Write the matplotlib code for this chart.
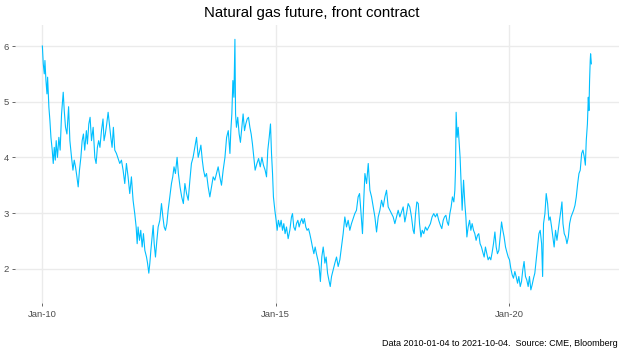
import pandas as pd
import matplotlib
matplotlib.use('Agg')
import matplotlib.pyplot as plt

plt.rcParams['font.family'] = ['Liberation Sans', 'DejaVu Sans']

# front-month price (approximate, ~2 points/month)
dates = [
    '2010-01-04', '2010-01-11', '2010-01-19', '2010-01-24', '2010-02-01', '2010-02-09', '2010-02-14', '2010-02-24',
    '2010-03-04', '2010-03-12', '2010-03-22', '2010-03-30', '2010-04-07', '2010-04-15', '2010-04-22', '2010-05-02',
    '2010-05-13', '2010-05-23', '2010-06-03', '2010-06-16', '2010-06-24', '2010-07-04', '2010-07-15', '2010-07-28',
    '2010-08-07', '2010-08-20', '2010-08-31', '2010-09-10', '2010-09-20', '2010-10-01', '2010-10-11', '2010-10-21',
    '2010-11-01', '2010-11-11', '2010-11-21', '2010-12-01', '2010-12-14', '2010-12-22',
    '2011-01-02', '2011-01-12', '2011-01-23', '2011-02-05', '2011-02-18', '2011-02-28', '2011-03-10', '2011-03-20',
    '2011-03-30', '2011-04-11', '2011-04-23', '2011-05-01', '2011-05-11', '2011-05-22', '2011-06-02', '2011-06-12',
    '2011-06-23', '2011-07-03', '2011-07-13', '2011-07-24', '2011-08-06', '2011-08-19', '2011-09-01', '2011-09-14',
    '2011-09-27', '2011-10-10', '2011-10-23', '2011-11-05', '2011-11-18', '2011-12-01', '2011-12-14', '2011-12-27',
    '2012-01-07', '2012-01-15', '2012-01-22', '2012-02-02', '2012-02-12', '2012-02-23', '2012-03-04', '2012-03-15',
    '2012-03-28', '2012-04-05', '2012-04-15', '2012-04-23', '2012-05-01', '2012-05-11', '2012-05-19', '2012-05-27',
    '2012-06-06', '2012-06-17', '2012-06-27', '2012-07-10', '2012-07-23', '2012-08-03', '2012-08-13', '2012-08-23',
    '2012-09-03', '2012-09-13', '2012-09-26', '2012-10-09', '2012-10-19', '2012-10-29', '2012-11-09', '2012-11-22',
    '2012-12-02', '2012-12-15', '2012-12-28',
    '2013-01-10', '2013-01-22', '2013-02-04', '2013-02-17', '2013-03-02', '2013-03-14', '2013-03-27', '2013-04-10',
    '2013-04-23', '2013-05-06', '2013-05-19', '2013-05-27', '2013-06-07', '2013-06-17', '2013-06-28', '2013-07-10',
    '2013-07-23', '2013-08-05', '2013-08-18', '2013-08-31', '2013-09-13', '2013-09-26', '2013-10-09', '2013-10-22',
    '2013-11-04', '2013-11-17', '2013-12-01', '2013-12-14', '2013-12-27',
    '2014-01-09', '2014-01-16', '2014-01-24', '2014-02-01', '2014-02-09', '2014-02-17', '2014-02-22', '2014-03-01',
    '2014-03-11', '2014-03-22', '2014-04-01', '2014-04-12', '2014-04-22', '2014-05-03', '2014-05-13', '2014-05-24',
    '2014-06-03', '2014-06-14', '2014-06-24', '2014-07-04', '2014-07-15', '2014-07-25', '2014-08-08', '2014-08-21',
    '2014-09-03', '2014-09-16', '2014-09-28', '2014-10-11', '2014-10-22', '2014-11-01', '2014-11-12', '2014-11-22',
    '2014-11-30', '2014-12-08', '2014-12-15', '2014-12-26',
    '2015-01-05', '2015-01-13', '2015-01-23', '2015-02-03', '2015-02-13', '2015-02-24', '2015-03-06', '2015-03-16',
    '2015-03-27', '2015-04-09', '2015-04-22', '2015-05-05', '2015-05-13', '2015-05-23', '2015-06-03', '2015-06-13',
    '2015-06-24', '2015-07-04', '2015-07-14', '2015-07-25', '2015-08-04', '2015-08-14', '2015-08-25', '2015-09-04',
    '2015-09-15', '2015-09-25', '2015-10-06', '2015-10-16', '2015-10-27', '2015-11-06', '2015-11-16', '2015-11-27',
    '2015-12-07', '2015-12-17', '2015-12-28',
    '2016-01-08', '2016-01-14', '2016-01-21', '2016-01-31', '2016-02-11', '2016-02-21', '2016-03-03', '2016-03-13',
    '2016-03-26', '2016-04-08', '2016-04-21', '2016-05-04', '2016-05-17', '2016-05-30', '2016-06-12', '2016-06-25',
    '2016-07-08', '2016-07-21', '2016-08-03', '2016-08-16', '2016-08-29', '2016-09-11', '2016-09-24', '2016-10-07',
    '2016-10-18', '2016-10-28', '2016-11-10', '2016-11-21', '2016-11-29', '2016-12-12', '2016-12-25',
    '2017-01-07', '2017-01-20', '2017-02-02', '2017-02-15', '2017-02-28', '2017-03-13', '2017-03-26', '2017-04-08',
    '2017-04-21', '2017-05-04', '2017-05-17', '2017-05-30', '2017-06-12', '2017-06-25', '2017-07-08', '2017-07-21',
    '2017-08-03', '2017-08-16', '2017-08-29', '2017-09-11', '2017-09-24', '2017-10-07', '2017-10-20', '2017-11-02',
    '2017-11-15', '2017-11-28', '2017-12-11', '2017-12-19', '2017-12-30',
    '2018-01-09', '2018-01-20', '2018-01-30', '2018-02-10', '2018-02-20', '2018-03-04', '2018-03-17', '2018-03-30',
    '2018-04-12', '2018-04-25', '2018-05-08', '2018-05-21', '2018-06-03', '2018-06-16', '2018-06-29', '2018-07-12',
    '2018-07-23', '2018-08-03', '2018-08-13', '2018-08-24', '2018-09-03', '2018-09-13', '2018-09-24', '2018-10-04',
    '2018-10-14', '2018-10-25', '2018-11-02', '2018-11-07', '2018-11-12', '2018-11-20', '2018-11-28', '2018-12-05',
    '2018-12-13', '2018-12-21', '2018-12-29',
    '2019-01-09', '2019-01-19', '2019-01-27', '2019-02-04', '2019-02-14', '2019-02-25', '2019-03-07', '2019-03-17',
    '2019-03-28', '2019-04-07', '2019-04-17', '2019-04-28', '2019-05-08', '2019-05-18', '2019-05-29', '2019-06-08',
    '2019-06-19', '2019-06-29', '2019-07-10', '2019-07-20', '2019-07-31', '2019-08-10', '2019-08-21', '2019-08-31',
    '2019-09-11', '2019-09-21', '2019-10-01', '2019-10-12', '2019-10-22', '2019-11-02', '2019-11-12', '2019-11-22',
    '2019-12-03', '2019-12-13', '2019-12-24',
    '2020-01-03', '2020-01-13', '2020-01-24', '2020-02-03', '2020-02-14', '2020-02-24', '2020-03-06', '2020-03-16',
    '2020-03-27', '2020-04-06', '2020-04-16', '2020-04-26', '2020-05-07', '2020-05-17', '2020-05-28', '2020-06-07',
    '2020-06-18', '2020-06-28', '2020-07-09', '2020-07-19', '2020-07-30', '2020-08-09', '2020-08-20', '2020-08-30',
    '2020-09-10', '2020-09-18', '2020-09-25', '2020-10-06', '2020-10-16', '2020-10-27', '2020-11-06', '2020-11-16',
    '2020-11-27', '2020-12-07', '2020-12-17', '2020-12-28',
    '2021-01-08', '2021-01-18', '2021-01-28', '2021-02-08', '2021-02-16', '2021-02-24', '2021-03-06', '2021-03-17',
    '2021-03-27', '2021-04-07', '2021-04-17', '2021-04-28', '2021-05-08', '2021-05-18', '2021-05-29', '2021-06-08',
    '2021-06-19', '2021-06-29', '2021-07-09', '2021-07-20', '2021-07-30', '2021-08-10', '2021-08-18', '2021-08-25',
    '2021-09-03', '2021-09-10', '2021-09-15', '2021-09-20', '2021-09-25', '2021-09-28', '2021-10-04',
]
price = [
    6.00, 5.68, 5.50, 5.74, 5.38, 5.14, 5.44, 4.90,
    4.66, 4.36, 4.13, 3.89, 4.18, 3.95, 4.30, 4.00,
    4.36, 4.13, 4.78, 5.17, 4.84, 4.54, 4.42, 4.91,
    4.30, 4.00, 3.77, 3.95, 3.83, 3.65, 3.47, 3.77,
    4.00, 4.30, 4.42, 4.13, 4.48, 4.24,
    4.60, 4.72, 4.30, 4.54, 4.00, 3.89, 4.18, 4.30,
    4.18, 4.48, 4.69, 4.30, 4.42, 4.60, 4.81, 4.60,
    4.36, 4.18, 4.54, 4.13, 4.07, 3.98, 3.89, 3.95,
    3.77, 3.53, 3.89, 3.65, 3.35, 3.65, 3.23, 2.99,
    2.75, 2.45, 2.75, 2.51, 2.69, 2.39, 2.63, 2.33,
    2.21, 2.10, 1.92, 2.10, 2.33, 2.57, 2.78, 2.45,
    2.21, 2.51, 2.75, 2.87, 3.17, 2.93, 2.75, 2.69,
    2.81, 3.05, 3.29, 3.53, 3.65, 3.83, 3.71, 4.00,
    3.71, 3.47, 3.29,
    3.17, 3.53, 3.35, 3.23, 3.59, 3.89, 4.00, 4.19,
    4.36, 4.00, 4.13, 4.22, 3.95, 3.77, 3.65, 3.71,
    3.47, 3.29, 3.47, 3.65, 3.59, 3.71, 3.83, 3.65,
    3.50, 3.77, 4.00, 4.36, 4.48,
    4.07, 4.48, 4.78, 5.38, 5.08, 6.12, 4.78, 4.54,
    4.72, 4.42, 4.27, 4.54, 4.78, 4.48, 4.60, 4.69,
    4.72, 4.54, 4.42, 4.24, 4.00, 3.77, 3.89, 3.98,
    3.83, 4.00, 3.86, 3.77, 3.65, 4.13, 4.36, 4.60,
    4.07, 3.71, 3.29, 3.05,
    2.87, 2.69, 2.87, 2.75, 2.87, 2.69, 2.81, 2.63,
    2.75, 2.54, 2.69, 2.93, 2.99, 2.75, 2.69, 2.81,
    2.87, 2.75, 2.84, 2.90, 2.81, 2.90, 2.75, 2.69,
    2.72, 2.63, 2.51, 2.39, 2.27, 2.39, 2.27, 2.16,
    2.04, 1.77, 2.21,
    2.39, 2.27, 2.10, 2.21, 1.92, 1.80, 1.68, 1.86,
    1.98, 2.10, 2.21, 2.04, 2.16, 2.39, 2.63, 2.93,
    2.75, 2.87, 2.69, 2.81, 2.90, 2.99, 3.05, 3.29,
    3.35, 3.05, 2.63, 3.29, 3.71, 3.53, 3.89,
    3.41, 3.29, 3.11, 2.93, 2.66, 2.93, 3.05, 3.23,
    3.11, 3.29, 3.41, 3.11, 3.05, 2.99, 2.93, 2.81,
    2.93, 3.05, 2.93, 3.02, 3.11, 2.84, 2.99, 3.17,
    3.11, 2.93, 2.69, 2.63, 2.99,
    3.20, 3.17, 2.81, 2.57, 2.69, 2.63, 2.75, 2.69,
    2.75, 2.81, 2.93, 2.99, 2.93, 2.99, 2.87, 2.78,
    2.72, 2.87, 2.93, 2.96, 2.84, 2.78, 2.99, 3.11,
    3.29, 3.20, 3.41, 3.77, 4.81, 4.36, 4.54, 4.30,
    4.00, 3.53, 3.05,
    3.59, 3.17, 2.93, 2.57, 2.75, 2.87, 2.69, 2.81,
    2.69, 2.63, 2.51, 2.60, 2.63, 2.45, 2.39, 2.30,
    2.21, 2.39, 2.27, 2.16, 2.21, 2.16, 2.30, 2.45,
    2.66, 2.39, 2.27, 2.33, 2.57, 2.84, 2.69, 2.57,
    2.39, 2.30, 2.21,
    2.16, 2.01, 1.89, 1.83, 1.95, 1.86, 1.74, 1.86,
    1.68, 1.77, 1.98, 2.13, 1.86, 1.80, 1.68, 1.86,
    1.62, 1.71, 1.83, 1.92, 2.16, 2.39, 2.63, 2.69,
    2.45, 1.86, 2.81, 2.99, 3.35, 3.17, 2.87, 2.93,
    2.75, 2.57, 2.39, 2.69,
    2.51, 2.69, 2.87, 3.05, 3.20, 2.81, 2.63, 2.57,
    2.45, 2.57, 2.81, 2.93, 2.99, 3.05, 3.14, 3.29,
    3.53, 3.71, 3.77, 4.07, 4.13, 4.00, 3.86, 4.30,
    4.60, 5.08, 4.84, 5.38, 5.74, 5.86, 5.68,
]

tick_dates = ['2010-01-01', '2015-01-01', '2020-01-01']
tick_labels = ['Jan-10', 'Jan-15', 'Jan-20']
y_ticks = [2, 3, 4, 5, 6]

df = pd.DataFrame({'date': pd.to_datetime(dates), 'price': price})

fig = plt.figure(figsize=(6.24, 3.53), dpi=100)
ax = fig.add_axes([0.0234, 0.1416, 0.9686, 0.7875])

ax.plot(df['date'], df['price'], color='#00BFFF', linewidth=0.8)

ax.set_xlim(pd.Timestamp('2009-06-01'), pd.Timestamp('2022-05-08'))
ax.set_ylim(1.384, 6.377)
ax.set_xticks(pd.to_datetime(tick_dates))
ax.set_xticklabels(tick_labels)
ax.set_yticks(y_ticks)

ax.grid(True, color='#EBEBEB', linewidth=1.0)
ax.set_axisbelow(True)
for s in ax.spines.values():
    s.set_visible(False)
ax.tick_params(colors='#4D4D4D', labelsize=6.8, length=2, width=0.6, pad=2)
ax.tick_params(axis='x', pad=3)

fig.text(0.5, 0.962, 'Natural gas future, front contract', ha='center', va='center',
         fontsize=10.8, color='black')
fig.text(0.99, 0.028, 'Data 2010-01-04 to 2021-10-04.  Source: CME, Bloomberg',
         ha='right', va='center', fontsize=6.5, color='black')

fig.savefig('out.png', dpi=100)
